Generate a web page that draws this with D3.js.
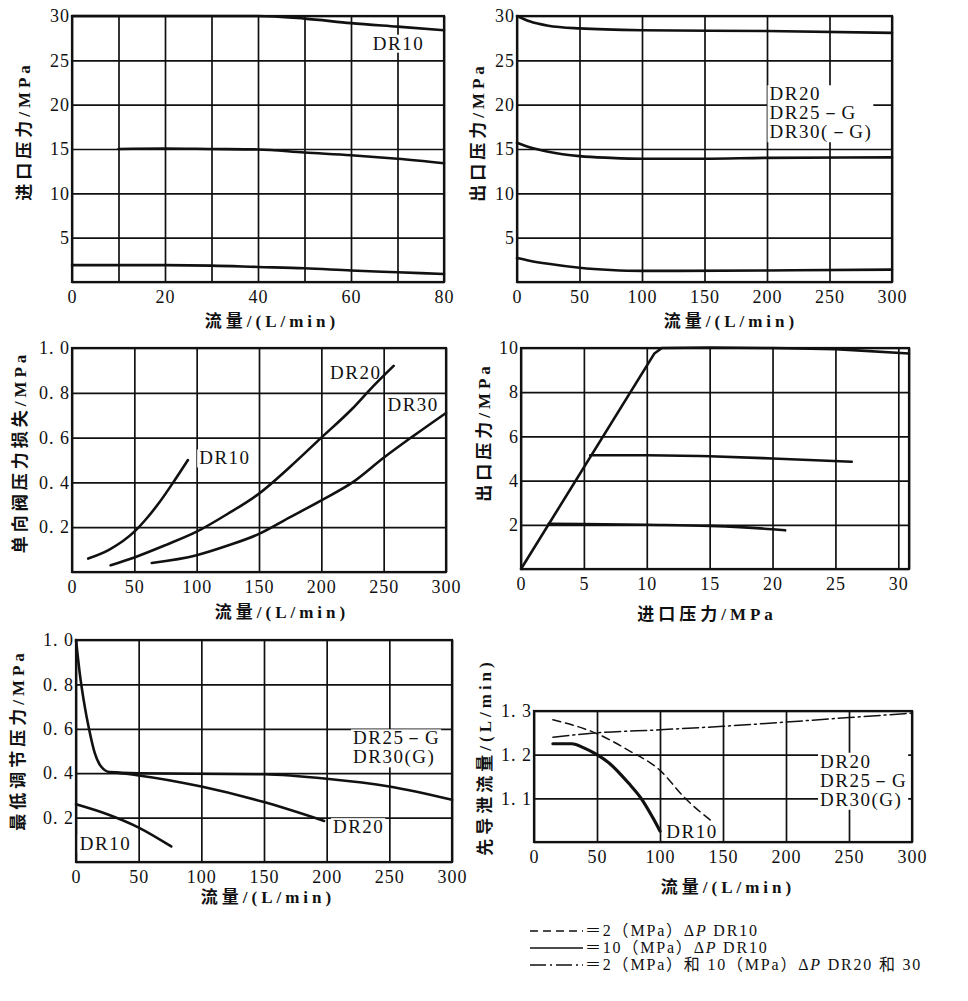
<!doctype html>
<html lang="zh">

<head>
    <title>DR 减压阀特性曲线</title>
    <meta charset="utf-8">
    <style>
        body { margin: 0; background: #fff; }
    </style>
</head>

<body>
    <div id="chart"></div>

    <script src="https://cdnjs.cloudflare.com/ajax/libs/d3/7.8.5/d3.min.js"></script>

    <script>
        // ---- data ----
        // panel 1: inlet pressure vs flow, DR10
        const inletHigh = [[0, 30], [20, 30], [40, 30], [50, 29.7], [60, 29.2], [70, 28.8], [80, 28.4]];
        const inletMid = [[10, 15], [20, 15.05], [30, 15], [40, 14.95], [50, 14.6], [60, 14.3], [70, 13.9], [80, 13.4]];
        const inletLow = [[0, 1.9], [20, 1.9], [30, 1.85], [40, 1.7], [50, 1.55], [60, 1.3], [70, 1.1], [80, 0.9]];

        // panel 2: outlet pressure vs flow, DR20/25/30
        const outletHigh = [[0, 30], [10, 29.4], [25, 28.9], [50, 28.6], [100, 28.4], [200, 28.3], [300, 28.1]];
        const outletMid = [[0, 15.7], [10, 15.2], [25, 14.7], [50, 14.2], [75, 14.0], [100, 13.9], [150, 13.9], [200, 14.0], [300, 14.05]];
        const outletLow = [[0, 2.7], [10, 2.4], [25, 2.05], [50, 1.6], [75, 1.35], [100, 1.25], [200, 1.3], [300, 1.4]];

        // panel 3: check valve pressure loss vs flow
        const checkDR10 = [[13, 0.06], [30, 0.1], [50, 0.18], [60, 0.24], [70, 0.31], [80, 0.39], [93, 0.5]];
        const checkDR20 = [[31, 0.03], [50, 0.065], [75, 0.12], [100, 0.18], [125, 0.26], [150, 0.35], [175, 0.47], [200, 0.6], [225, 0.73], [240, 0.82], [258, 0.92]];
        const checkDR30 = [[64, 0.04], [100, 0.075], [125, 0.118], [150, 0.17], [175, 0.245], [200, 0.32], [225, 0.4], [250, 0.51], [272, 0.6], [300, 0.71]];

        // panel 4: outlet vs inlet pressure
        const reducer10 = [[0, 0], [10.6, 9.75], [11.2, 10], [15, 10.02], [20, 10], [25, 9.95], [30.85, 9.75]];
        const reducer5 = [[5.5, 5.15], [10, 5.15], [15, 5.1], [20, 5.0], [26.3, 4.85]];
        const reducer2 = [[2.2, 2.05], [10, 2.0], [15, 1.95], [20, 1.8], [21, 1.75]];

        // panel 5: minimum adjustable pressure vs flow
        const minG = [[0, 1.0], [3, 0.85], [7, 0.7], [10, 0.61], [15, 0.49], [20, 0.43], [27, 0.405], [50, 0.4], [150, 0.395], [200, 0.375], [250, 0.34], [300, 0.28]];
        const minDR20 = [[30, 0.403], [50, 0.39], [100, 0.34], [150, 0.27], [198, 0.185]];
        const minDR10 = [[0, 0.26], [25, 0.215], [50, 0.155], [76, 0.07]];

        // panel 6: pilot drain flow vs flow
        const pilotDR10at10 = [[15, 1.225], [30, 1.225], [40, 1.215], [50, 1.2], [60, 1.18], [75, 1.135], [85, 1.1], [95, 1.052], [100, 1.025]];
        const pilotDR10at2 = [[15, 1.28], [50, 1.248], [75, 1.21], [100, 1.164], [120, 1.1], [140, 1.05]];
        const pilotDR20 = [[15, 1.24], [50, 1.25], [100, 1.257], [150, 1.265], [250, 1.285], [300, 1.295]];

        const flow80Ticks = [0, 20, 40, 60, 80];
        const flow300Ticks = [0, 50, 100, 150, 200, 250, 300];
        const press30Ticks = [5, 10, 15, 20, 25, 30];
        const lossTicks = [0.2, 0.4, 0.6, 0.8, 1.0];
        const press10Ticks = [2, 4, 6, 8, 10];
        const inletTicks = [0, 5, 10, 15, 20, 25, 30];
        const drainTicks = [1.1, 1.2, 1.3];

        const legendItems = ["＝2（MPa）ΔP DR10", "＝10（MPa）ΔP DR10", "＝2（MPa）和 10（MPa）ΔP DR20 和 30"];

        const width = 968;
        const height = 1001;
        const serif = '"Liberation Serif", "DejaVu Serif", serif';
        const mixed = '"Liberation Serif", "Noto Sans CJK SC", serif';
        const svg = d3.select("#chart").append("svg").attr("width", width).attr("height", height);
        svg.append("rect").attr("width", width).attr("height", height).attr("fill", "#fff");

        const flowTitle = "流量/(L/min)";
        const oneDec = v => d3.format(".1f")(v).replace(".", ". ");
        const dashed = "8,5";
        const dashDot = "16,4,2,4";

        const panels = [
            {
                box: [72, 444, 16, 282], xDom: [0, 80], yDom: [0, 30],
                xGrid: d3.range(0, 81, 10), yGrid: d3.range(0, 31, 5),
                xTicks: flow80Ticks, yTicks: press30Ticks, yFmt: d3.format("d"),
                xTitle: flowTitle, xTitlePos: [272, 327], yTitle: "进口压力/MPa", yTitlePos: [24, 131],
                series: [{ d: inletHigh }, { d: inletMid }, { d: inletLow }],
                labels: [{ t: ["DR10"], at: [64.7, 26.2] }]
            },
            {
                box: [517, 892, 16, 282], xDom: [0, 300], yDom: [0, 30],
                xGrid: d3.range(0, 301, 50), yGrid: d3.range(0, 31, 5),
                xTicks: flow300Ticks, yTicks: press30Ticks, yFmt: d3.format("d"),
                xTitle: flowTitle, xTitlePos: [731, 327], yTitle: "出口压力/MPa", yTitlePos: [478, 132],
                series: [{ d: outletHigh }, { d: outletMid }, { d: outletLow }],
                labels: [{ t: ["DR20", "DR25－G", "DR30(－G)"], at: [202, 20.5] }]
            },
            {
                box: [72, 446, 348, 572], xDom: [0, 300], yDom: [0, 1],
                xGrid: d3.range(0, 301, 50), yGrid: [0, 0.2, 0.4, 0.6, 0.8, 1],
                xTicks: flow300Ticks, yTicks: lossTicks, yFmt: oneDec,
                xTitle: flowTitle, xTitlePos: [282, 618], yTitle: "单向阀压力损失/MPa", yTitlePos: [20, 452],
                series: [{ d: checkDR10 }, { d: checkDR20 }, { d: checkDR30 }],
                labels: [{ t: ["DR10"], at: [102, 0.48] }, { t: ["DR20"], at: [207, 0.86] }, { t: ["DR30"], at: [253, 0.72] }]
            },
            {
                box: [521, 909, 348, 569], xDom: [0, 30.85], yDom: [0, 10],
                xGrid: [0, 5, 10, 15, 20, 25, 30, 30.85], yGrid: [0, 2, 4, 6, 8, 10],
                xTicks: inletTicks, yTicks: press10Ticks, yFmt: d3.format("d"),
                xTitle: "进口压力/MPa", xTitlePos: [707, 620], yTitle: "出口压力/MPa", yTitlePos: [484, 432],
                series: [{ d: reducer10, curve: d3.curveLinear }, { d: reducer5 }, { d: reducer2 }],
                labels: []
            },
            {
                box: [76, 452, 640, 862], xDom: [0, 300], yDom: [0, 1],
                xGrid: d3.range(0, 301, 50), yGrid: [0, 0.2, 0.4, 0.6, 0.8, 1],
                xTicks: flow300Ticks, yTicks: lossTicks, yFmt: oneDec,
                xTitle: flowTitle, xTitlePos: [268, 903], yTitle: "最低调节压力/MPa", yTitlePos: [18, 740],
                series: [{ d: minG }, { d: minDR20 }, { d: minDR10 }],
                labels: [{ t: ["DR25－G", "DR30(G)"], at: [221, 0.53] }, { t: ["DR20"], at: [205, 0.13] }, { t: ["DR10"], at: [3, 0.055] }]
            },
            {
                box: [534, 912, 711, 842], xDom: [0, 300], yDom: [1.0, 1.3],
                xGrid: d3.range(0, 301, 50), yGrid: [1.0, 1.1, 1.2, 1.3],
                xTicks: flow300Ticks, yTicks: drainTicks, yFmt: oneDec,
                xTitle: flowTitle, xTitlePos: [728, 893], yTitle: "先导泄流量/(L/min)", yTitlePos: [485, 757],
                series: [
                    { d: pilotDR10at10, w: 3.2 },
                    { d: pilotDR10at2, w: 1.5, dash: dashed },
                    { d: pilotDR20, w: 1.5, dash: dashDot }
                ],
                labels: [{ t: ["DR20", "DR25－G", "DR30(G)"], at: [227, 1.17] }, { t: ["DR10"], at: [105, 1.01] }]
            }
        ];

        panels.forEach(drawPanel);
        drawLegend();

        function styleTicks(a) {
            a.select(".domain").remove();
            a.attr("font-family", null).attr("font-size", null);
            a.selectAll("text")
                .style("font-family", serif).style("font-size", "18px")
                .style("letter-spacing", "1px").attr("fill", "#111");
        }

        function drawPanel(p) {
            const [x0, x1, y0, y1] = p.box;
            const x = d3.scaleLinear().domain(p.xDom).range([x0, x1]);
            const y = d3.scaleLinear().domain(p.yDom).range([y1, y0]);
            const g = svg.append("g");

            // grid through the axis generator
            g.append("g").attr("transform", `translate(0,${y1})`)
                .call(d3.axisBottom(x).tickValues(p.xGrid).tickSize(-(y1 - y0)).tickFormat(""))
                .call(a => a.select(".domain").remove())
                .call(a => a.selectAll("line").attr("stroke", "#111").attr("stroke-width", 1.7));
            g.append("g").attr("transform", `translate(${x0},0)`)
                .call(d3.axisLeft(y).tickValues(p.yGrid).tickSize(-(x1 - x0)).tickFormat(""))
                .call(a => a.select(".domain").remove())
                .call(a => a.selectAll("line").attr("stroke", "#111").attr("stroke-width", 1.7));

            g.append("rect").attr("x", x0).attr("y", y0).attr("width", x1 - x0).attr("height", y1 - y0)
                .attr("fill", "none").attr("stroke", "#111").attr("stroke-width", 2.2);

            // tick labels
            g.append("g").attr("transform", `translate(0,${y1})`)
                .call(d3.axisBottom(x).tickValues(p.xTicks).tickSize(0).tickPadding(8).tickFormat(d3.format("d")))
                .call(styleTicks);
            g.append("g").attr("transform", `translate(${x0},0)`)
                .call(d3.axisLeft(y).tickValues(p.yTicks).tickSize(0).tickPadding(2).tickFormat(p.yFmt))
                .call(styleTicks);

            // curve labels with a white patch behind
            p.labels.forEach(l => {
                const lg = g.append("g");
                const txt = lg.append("text")
                    .style("font-family", serif).style("font-size", "19px").style("letter-spacing", "1.5px")
                    .attr("fill", "#111")
                    .attr("x", x(l.at[0])).attr("y", y(l.at[1]));
                l.t.forEach((s, i) => txt.append("tspan").attr("x", x(l.at[0])).attr("dy", i ? 19 : 0).text(s));
                const b = txt.node().getBBox();
                lg.insert("rect", "text").attr("x", b.x - 2).attr("y", b.y + 2).attr("width", b.width + 3).attr("height", b.height - 3)
                    .attr("fill", "#fff");
            });

            const line = d3.line().x(d => x(d[0])).y(d => y(d[1]));
            p.series.forEach(s => {
                g.append("path").datum(s.d)
                    .attr("d", line.curve(s.curve || d3.curveMonotoneX))
                    .attr("fill", "none").attr("stroke", "#111")
                    .attr("stroke-width", s.w || 2.6)
                    .attr("stroke-dasharray", s.dash || null)
                    .attr("stroke-linecap", "round");
            });

            const title = (sel) => sel.style("font-family", mixed).style("font-size", "17px")
                .style("font-weight", "bold").style("letter-spacing", "4px")
                .attr("fill", "#111").attr("text-anchor", "middle");
            g.append("text").call(title)
                .attr("x", p.xTitlePos[0]).attr("y", p.xTitlePos[1]).text(p.xTitle);
            g.append("text").call(title)
                .attr("transform", `translate(${p.yTitlePos[0] + 6},${p.yTitlePos[1]}) rotate(-90)`)
                .text(p.yTitle);
        }

        function drawLegend() {
            const dashes = [dashed, null, dashDot];
            const ly = d3.scalePoint().domain(legendItems).range([931, 965]);
            const lg = svg.append("g");
            legendItems.forEach((s, i) => {
                lg.append("line").attr("x1", 530).attr("x2", 583).attr("y1", ly(s)).attr("y2", ly(s))
                    .attr("stroke", "#111").attr("stroke-width", 1.5).attr("stroke-dasharray", dashes[i]);
                const k = s.indexOf("ΔP");
                const t = lg.append("text")
                    .style("font-family", mixed).style("font-size", "16px").style("letter-spacing", "1.8px")
                    .attr("fill", "#111")
                    .attr("x", 585).attr("y", ly(s) + 5);
                t.append("tspan").text(s.slice(0, k + 1));
                t.append("tspan").style("font-style", "italic").text("P");
                t.append("tspan").text(s.slice(k + 2));
            });
        }
    </script>
</body>

</html>
